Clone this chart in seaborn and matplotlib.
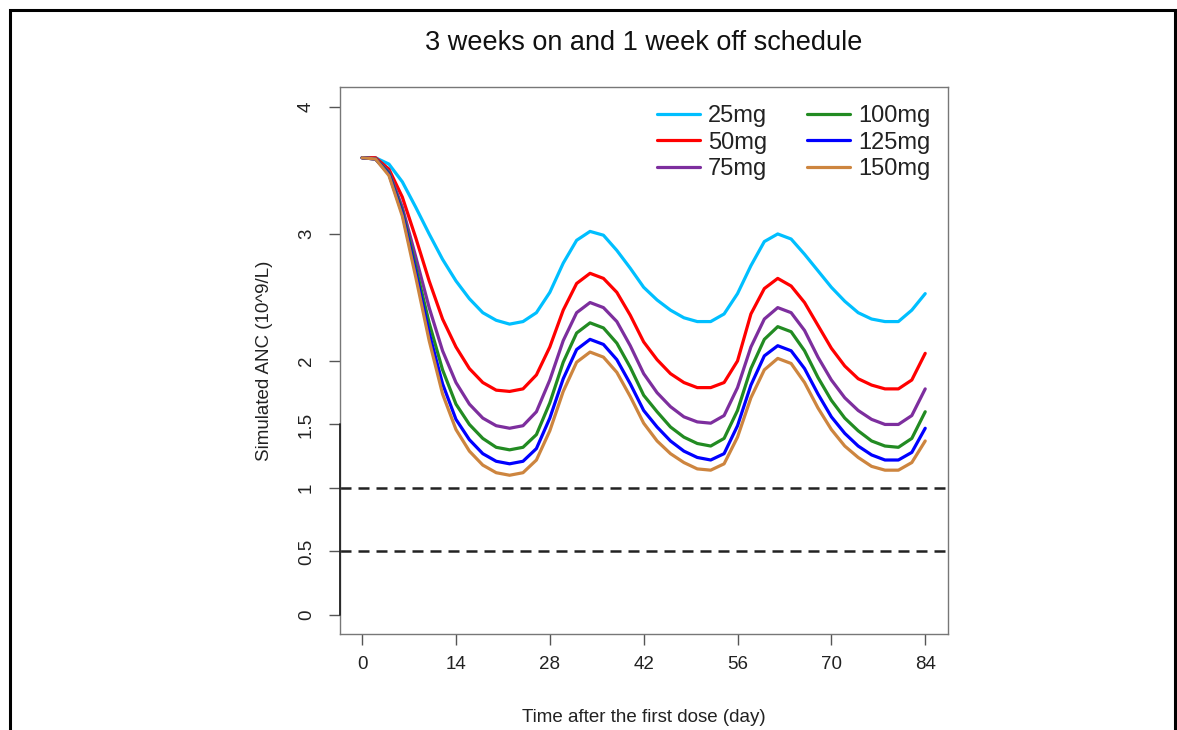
import numpy as np
import pandas as pd
import matplotlib
matplotlib.use("Agg")
import matplotlib.pyplot as plt
from matplotlib.patches import Rectangle
import seaborn as sns

# Simulated ANC (10^9/L) every 2 days, day 0 .. 84
days = list(range(0, 85, 2))

anc_25mg = [3.60, 3.60, 3.55, 3.41, 3.21, 3.00, 2.80, 2.63, 2.49, 2.38, 2.32, 2.29,
            2.31, 2.38, 2.54, 2.77, 2.95, 3.02, 2.99, 2.87, 2.73, 2.58,
            2.48, 2.40, 2.34, 2.31, 2.31, 2.37, 2.53, 2.75, 2.94, 3.00,
            2.96, 2.84, 2.71, 2.58, 2.47, 2.38, 2.33, 2.31, 2.31, 2.40, 2.53]
anc_50mg = [3.60, 3.60, 3.51, 3.29, 2.97, 2.63, 2.33, 2.11, 1.94, 1.83, 1.77, 1.76,
            1.78, 1.89, 2.11, 2.40, 2.61, 2.69, 2.65, 2.54, 2.36, 2.15,
            2.01, 1.90, 1.83, 1.79, 1.79, 1.83, 2.00, 2.37, 2.57, 2.65,
            2.59, 2.46, 2.28, 2.10, 1.96, 1.86, 1.81, 1.78, 1.78, 1.85, 2.06]
anc_75mg = [3.60, 3.59, 3.49, 3.21, 2.82, 2.42, 2.08, 1.83, 1.66, 1.55, 1.49, 1.47,
            1.49, 1.60, 1.85, 2.16, 2.38, 2.46, 2.42, 2.31, 2.12, 1.90,
            1.75, 1.64, 1.56, 1.52, 1.51, 1.57, 1.79, 2.11, 2.33, 2.42,
            2.38, 2.24, 2.03, 1.85, 1.71, 1.61, 1.54, 1.50, 1.50, 1.57, 1.78]
anc_100mg = [3.60, 3.59, 3.48, 3.18, 2.74, 2.30, 1.93, 1.66, 1.50, 1.39, 1.32, 1.30,
             1.32, 1.42, 1.67, 1.99, 2.22, 2.30, 2.26, 2.14, 1.95, 1.73,
             1.60, 1.48, 1.40, 1.35, 1.33, 1.39, 1.61, 1.94, 2.17, 2.27,
             2.23, 2.08, 1.87, 1.69, 1.55, 1.45, 1.37, 1.33, 1.32, 1.39, 1.60]
anc_125mg = [3.60, 3.59, 3.47, 3.16, 2.70, 2.22, 1.82, 1.54, 1.38, 1.27, 1.21, 1.19,
             1.21, 1.31, 1.55, 1.86, 2.09, 2.17, 2.13, 2.01, 1.82, 1.61,
             1.48, 1.37, 1.29, 1.24, 1.22, 1.27, 1.49, 1.81, 2.04, 2.12,
             2.08, 1.94, 1.74, 1.56, 1.43, 1.33, 1.26, 1.22, 1.22, 1.28, 1.47]
anc_150mg = [3.60, 3.59, 3.46, 3.14, 2.66, 2.16, 1.74, 1.46, 1.29, 1.18, 1.12, 1.10,
             1.12, 1.22, 1.45, 1.76, 1.99, 2.07, 2.03, 1.91, 1.72, 1.51,
             1.37, 1.27, 1.20, 1.15, 1.14, 1.19, 1.40, 1.71, 1.93, 2.02,
             1.98, 1.83, 1.63, 1.46, 1.33, 1.24, 1.17, 1.14, 1.14, 1.20, 1.37]

doses = ["25mg", "50mg", "75mg", "100mg", "125mg", "150mg"]
series = [anc_25mg, anc_50mg, anc_75mg, anc_100mg, anc_125mg, anc_150mg]
colors = ["#00BFFF", "#FF0000", "#7D2E9E", "#228B22", "#0000FF", "#CD853F"]

thresholds = [1.0, 0.5]
x_ticks = [0, 14, 28, 42, 56, 70, 84]
y_ticks = [0, 0.5, 1, 1.5, 2, 3, 4]
y_tick_labels = ["0", "0.5", "1", "1.5", "2", "3", "4"]

df = pd.DataFrame({
    "day": np.tile(days, len(doses)),
    "anc": np.concatenate(series),
    "dose": np.repeat(doses, len(days)),
})

sns.set_style("white")
plt.rcParams["font.family"] = ["Liberation Sans", "DejaVu Sans"]

fig = plt.figure(figsize=(11.77, 7.30), dpi=100)
ax = fig.add_axes([340 / 1177, 1 - 634 / 730, 608 / 1177, 547 / 730])

sns.lineplot(data=df, x="day", y="anc", hue="dose", hue_order=doses,
             palette=dict(zip(doses, colors)), linewidth=2.3, ax=ax,
             legend=True, solid_joinstyle="round", solid_capstyle="round")

for t in thresholds:
    ax.axhline(t, color="#222222", linewidth=1.8, dashes=(4.4, 2.8), zorder=1)

ax.set_xlim(-3.3, 87.4)
ax.set_ylim(-0.15, 4.157)
ax.set_xticks(x_ticks)
ax.set_xticklabels([str(v) for v in x_ticks], fontsize=13.5, color="#222222")
ax.set_yticks(y_ticks)
ax.set_yticklabels(y_tick_labels, rotation=90, va="center", fontsize=13.5,
                   color="#222222")
ax.tick_params(axis="both", direction="out", length=8, width=1.0,
               color="#555555", bottom=True, left=True)
ax.tick_params(axis="x", pad=8)
ax.tick_params(axis="y", pad=10)
for sp in ax.spines.values():
    sp.set_visible(True)
    sp.set_color("#777777")
    sp.set_linewidth(1.0)

# darker axis line along the lower part of the y axis
ax.plot([0, 0], [0, 1.5], color="#222222", linewidth=1.3,
        transform=ax.get_yaxis_transform(), clip_on=False, zorder=5)

ax.set_xlabel("Time after the first dose (day)", fontsize=13.5,
              color="#222222", labelpad=26)
ax.set_ylabel("Simulated ANC (10^9/L)", fontsize=13.5, color="#222222",
              labelpad=18)

handles, labels = ax.get_legend_handles_labels()
leg = ax.legend(handles, labels, ncol=2, frameon=False, loc="upper left",
                bbox_to_anchor=((657 - 340) / 608, (634 - 105) / 547),
                fontsize=17, handlelength=1.82, handletextpad=0.34,
                columnspacing=1.7, labelspacing=0.2, borderpad=0,
                borderaxespad=0)
for line in leg.get_lines():
    line.set_linewidth(2.3)
for txt in leg.get_texts():
    txt.set_color("#222222")

fig.text(644 / 1177, 1 - 43 / 730, "3 weeks on and 1 week off schedule",
         ha="center", va="center", fontsize=19.5, color="#111111")

fig.patches.append(Rectangle((10 / 1177, -0.05), 1165 / 1177, 0.05 + 1 - 10 / 730,
                             transform=fig.transFigure, fill=False,
                             edgecolor="black", linewidth=2.2))

fig.savefig("out.png", dpi=100)
